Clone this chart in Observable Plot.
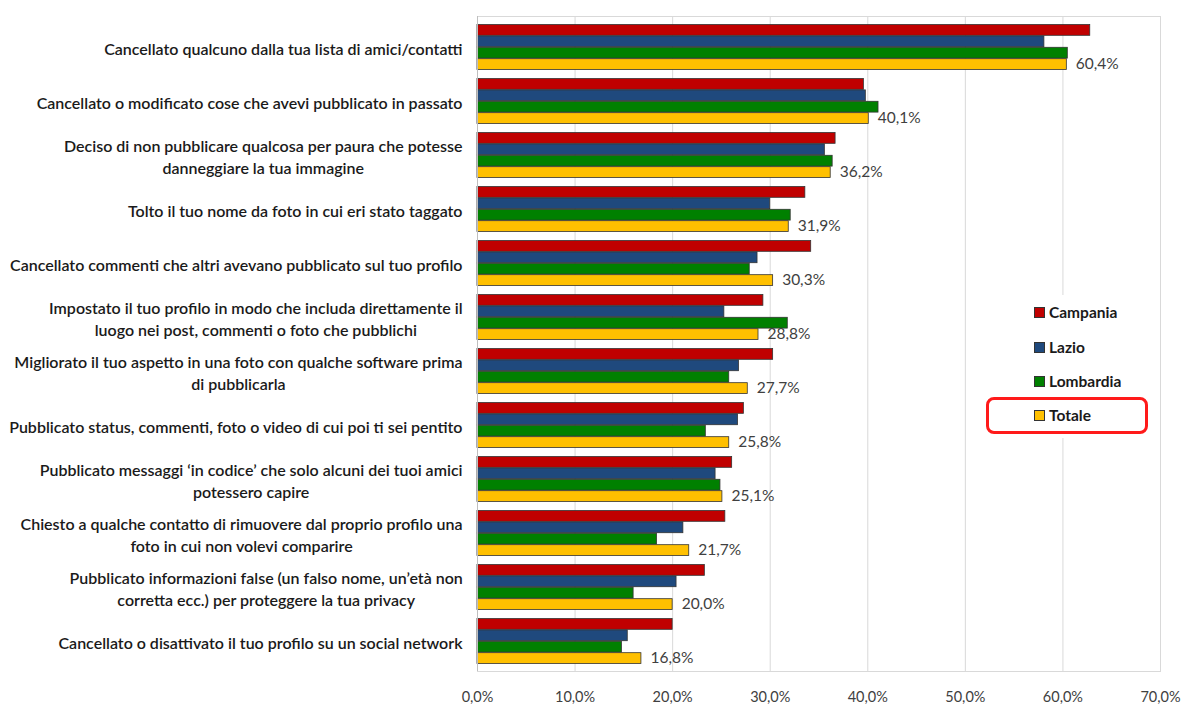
<!DOCTYPE html>
<html>
<head>
<meta charset="utf-8">
<script src="https://cdn.jsdelivr.net/npm/d3@7"></script>
<script src="https://cdn.jsdelivr.net/npm/@observablehq/plot@0.6"></script>
<style>
  html, body { margin: 0; padding: 0; background: #fff; }
  #wrap { position: relative; width: 1183px; height: 704px; font-family: Lato, "Open Sans", sans-serif; }
  #legendBg { position: absolute; left: 990px; top: 295px; width: 166px; height: 143px; background: #fff; }
  .lg-item { position: absolute; left: 1034px; height: 16px; display: flex; align-items: center; font: bold 15.5px Lato, sans-serif; color: #1a1a1a; }
  .lg-sw { width: 9px; height: 9px; border: 1px solid #333; margin-right: 4px; }
  #hl { position: absolute; left: 986px; top: 397px; width: 162px; height: 37px; box-sizing: border-box; border: 3px solid #ff1a1a; border-radius: 8px; }
</style>
</head>
<body>
<div id="wrap"></div>
<script>
const categories = [
  "Cancellato qualcuno dalla tua lista di amici/contatti",
  "Cancellato o modificato cose che avevi pubblicato in passato",
  "Deciso di non pubblicare qualcosa per paura che potesse\ndanneggiare la tua immagine",
  "Tolto il tuo nome da foto in cui eri stato taggato",
  "Cancellato commenti che altri avevano pubblicato sul tuo profilo",
  "Impostato il tuo profilo in modo che includa direttamente il\nluogo nei post, commenti o foto che pubblichi",
  "Migliorato il tuo aspetto in una foto con qualche software prima\ndi pubblicarla",
  "Pubblicato status, commenti, foto o video di cui poi ti sei pentito",
  "Pubblicato messaggi \u2018in codice\u2019 che solo alcuni dei tuoi amici\npotessero capire",
  "Chiesto a qualche contatto di rimuovere dal proprio profilo una\nfoto in cui non volevi comparire",
  "Pubblicato informazioni false (un falso nome, un\u2019et\u00e0 non\ncorretta ecc.) per proteggere la tua privacy",
  "Cancellato o disattivato il tuo profilo su un social network"
];
const seriesNames = ["Campania", "Lazio", "Lombardia", "Totale"];
const campania  = [62.8, 39.6, 36.7, 33.6, 34.2, 29.3, 30.3, 27.3, 26.1, 25.4, 23.3, 20.0];
const lazio     = [58.1, 39.8, 35.6, 30.0, 28.7, 25.3, 26.8, 26.7, 24.4, 21.1, 20.4, 15.4];
const lombardia = [60.5, 41.1, 36.4, 32.1, 27.9, 31.8, 25.8, 23.4, 24.9, 18.4, 16.0, 14.8];
const totale    = [60.4, 40.1, 36.2, 31.9, 30.3, 28.8, 27.7, 25.8, 25.1, 21.7, 20.0, 16.8];
const xTicks = [0, 10, 20, 30, 40, 50, 60, 70];
const colors = ["#C00000", "#1F497D", "#008000", "#FFC000"];

const seriesValues = [campania, lazio, lombardia, totale];
const rows = [];
seriesValues.forEach((vals, si) => {
  vals.forEach((v, ci) => rows.push({cat: categories[ci], series: seriesNames[si], value: v}));
});

const W = 1183, H = 704;
const mt = 16, mb = 33, ml = 477, mr = 23;
const band = (H - mt - mb) / categories.length;
const pad = 4.5;
const bh = (band - 2 * pad) / seriesNames.length;

const fmt = v => v.toFixed(1).replace(".", ",") + "%";

const barMarks = seriesNames.map((s, i) =>
  Plot.barX(rows.filter(r => r.series === s), {
    x: "value", y: "cat", fill: "series",
    stroke: "#333", strokeWidth: 0.8,
    insetTop: pad + i * bh, insetBottom: pad + (seriesNames.length - 1 - i) * bh
  })
);

const chart = Plot.plot({
  width: W, height: H,
  marginTop: mt, marginBottom: mb, marginLeft: ml, marginRight: mr,
  style: {fontFamily: "Lato, 'Open Sans', sans-serif", background: "#fff", color: "#1a1a1a"},
  x: {domain: [0, 70], ticks: xTicks},
  y: {domain: categories, padding: 0},
  color: {domain: seriesNames, range: colors},
  marks: [
    Plot.gridX(xTicks, {stroke: "#d9d9d9", strokeOpacity: 1}),
    Plot.frame({stroke: "#d9d9d9"}),
    ...barMarks,
    Plot.ruleX([0], {stroke: "#bfbfbf"}),
    Plot.text(rows.filter(r => r.series === "Totale"), {
      x: "value", y: "cat", text: d => fmt(d.value),
      textAnchor: "start", dx: 9, dy: pad + 3.5 * bh - band / 2 - 1,
      fontSize: 15.5, fill: "#404040"
    }),
    Plot.axisY({tickSize: 0, tickPadding: 15, fontSize: 16, fontWeight: 600, lineHeight: 1.375, label: null, fill: "#1a1a1a"}),
    Plot.axisX(xTicks, {tickSize: 0, tickPadding: 20, fontSize: 14.5, tickFormat: fmt, label: null, fill: "#404040"})
  ]
});

const wrap = document.getElementById("wrap");
wrap.appendChild(chart);

// center multi-line category labels like the original
chart.querySelectorAll('g[aria-label="y-axis tick label"] text').forEach(t => {
  const spans = t.querySelectorAll("tspan");
  if (spans.length > 1) {
    const bb = t.getBBox();
    const cx = bb.x + bb.width / 2;
    t.setAttribute("text-anchor", "middle");
    spans.forEach(sp => sp.setAttribute("x", cx));
  }
});

// legend
const bg = document.createElement("div");
bg.id = "legendBg";
wrap.appendChild(bg);
const legendY = [304, 339, 373, 407];
seriesNames.forEach((s, i) => {
  const it = document.createElement("div");
  it.className = "lg-item";
  it.style.top = legendY[i] + "px";
  const sw = document.createElement("span");
  sw.className = "lg-sw";
  sw.style.background = colors[i];
  const tx = document.createElement("span");
  tx.textContent = s;
  it.appendChild(sw); it.appendChild(tx);
  wrap.appendChild(it);
});
const hl = document.createElement("div");
hl.id = "hl";
wrap.appendChild(hl);
</script>
</body>
</html>
